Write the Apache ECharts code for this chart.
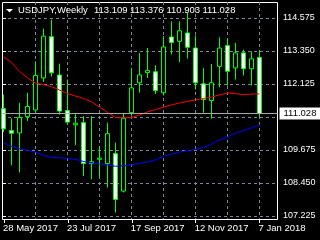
<!DOCTYPE html>
<html><head><meta charset="utf-8">
<script src="https://cdn.jsdelivr.net/npm/echarts@6/dist/echarts.min.js"></script>
<style>html,body{margin:0;padding:0;background:#000;}#c{width:320px;height:240px;}</style>
</head><body><div id="c"></div>
<script>
const symbolTitle = 'USDJPY,Weekly';
const dates = ['28 May 2017','4 Jun 2017','11 Jun 2017','18 Jun 2017','25 Jun 2017','2 Jul 2017','9 Jul 2017','16 Jul 2017','23 Jul 2017','30 Jul 2017','6 Aug 2017','13 Aug 2017','20 Aug 2017','27 Aug 2017','3 Sep 2017','10 Sep 2017','17 Sep 2017','24 Sep 2017','1 Oct 2017','8 Oct 2017','15 Oct 2017','22 Oct 2017','29 Oct 2017','5 Nov 2017','12 Nov 2017','19 Nov 2017','26 Nov 2017','3 Dec 2017','10 Dec 2017','17 Dec 2017','24 Dec 2017','31 Dec 2017','7 Jan 2018'];
const open  = [111.21,110.40,110.31,110.91,111.16,112.35,113.88,112.46,111.14,110.61,110.69,109.17,109.33,109.17,109.54,108.15,111.06,112.17,112.55,112.58,111.80,113.87,113.71,114.02,113.46,112.13,111.51,112.78,113.55,112.72,113.28,112.69,113.109];
const high  = [111.73,110.85,111.43,111.80,112.96,114.18,114.51,112.88,112.29,111.00,110.93,110.93,109.82,110.69,109.95,111.05,112.72,113.28,113.46,112.82,113.90,114.45,114.45,114.76,113.92,112.72,112.87,113.86,113.83,113.65,113.40,113.34,113.376];
const low   = [110.34,109.11,108.84,110.75,111.09,112.20,112.40,110.99,110.62,109.85,108.71,108.59,108.65,108.28,107.35,108.10,110.95,111.80,112.35,111.76,111.70,113.22,112.93,113.07,111.92,111.06,110.84,112.00,112.07,112.29,112.44,112.07,110.903];
const close = [110.46,110.30,110.88,111.29,112.44,113.90,112.54,111.12,110.71,110.67,109.17,109.24,109.37,110.28,107.84,110.85,111.98,112.46,112.63,111.88,113.50,113.67,114.10,113.49,112.17,111.55,112.17,113.46,112.60,113.28,112.69,113.06,111.028];
const maRed  = [113.14,112.92,112.59,112.35,112.16,112.10,112.03,111.90,111.77,111.68,111.59,111.46,111.27,111.07,110.88,110.87,110.88,110.975,111.09,111.18,111.27,111.35,111.42,111.48,111.53,111.59,111.64,111.72,111.79,111.77,111.73,111.75,111.76];
const maBlue = [109.95,109.81,109.72,109.66,109.59,109.48,109.40,109.39,109.36,109.33,109.25,109.20,109.16,109.12,109.07,109.09,109.12,109.18,109.23,109.31,109.44,109.52,109.60,109.65,109.70,109.77,109.90,110.05,110.16,110.29,110.40,110.50,110.60];
const yTicks = [107.225,108.450,109.675,110.900,112.125,113.350,114.575];

const FONT = 'Liberation Sans';
const GL = 2.5, GT = 2.5, GW = 275, GH = 217;
const BAR_PX = 8, FIRST_PX = 1;
const TICK_TOP = 18, TICK_BOT = 216;
const last = close.length - 1;
const ppu = (TICK_BOT - TICK_TOP) / (yTicks[yTicks.length-1] - yTicks[0]);
const yMax = yTicks[yTicks.length-1] + (TICK_TOP - GT) / ppu;
const yMin = yTicks[0] - (GT + GH - TICK_BOT) / ppu;
const xMin = -FIRST_PX / BAR_PX, xMax = xMin + GW / BAR_PX;
const grey = '#778899';
const green = '#00ff00';

const candles = dates.map((d, i) => [i, open[i], close[i], low[i], high[i]]);
const f3 = v => v.toFixed(3);
const nearestTick = v => yTicks.reduce((a, b) => Math.abs(b - v) < Math.abs(a - v) ? b : a);

const chart = echarts.init(document.getElementById('c'), null, {renderer: 'canvas'});
chart.setOption({
  backgroundColor: '#000',
  animation: false,
  grid: [
    {left: GL, top: GT, width: GW, height: GH, show: true, borderColor: '#fff', borderWidth: 1, backgroundColor: 'rgba(0,0,0,0)'},
    {left: 35.5, top: 2, width: 224, height: 217},
    {left: 3.5, top: 2, width: 256, height: 217},
    {left: 2, top: TICK_TOP, width: 275, height: TICK_BOT - TICK_TOP}
  ],
  xAxis: [
    {gridIndex: 0, type: 'value', min: xMin, max: xMax, show: false},
    {gridIndex: 1, type: 'value', min: 4, max: 32, interval: 4, axisLine: {show: false}, axisTick: {show: false}, axisLabel: {show: false},
      splitLine: {show: true, lineStyle: {color: grey, type: [3, 3], width: 1}}},
    {gridIndex: 2, type: 'value', min: 0, max: 32, interval: 8, axisLine: {show: false},
      axisTick: {show: true, length: 4, lineStyle: {color: '#fff'}},
      axisLabel: {show: true, color: '#fff', fontFamily: FONT, fontSize: 9.5, align: 'left', margin: 4, padding: [0,0,0,-1],
        formatter: v => dates[Math.round(v)] || ''},
      splitLine: {show: false}},
    {gridIndex: 3, type: 'value', min: 0, max: 1, show: false}
  ],
  yAxis: [
    {gridIndex: 0, type: 'value', min: yMin, max: yMax, show: false},
    {gridIndex: 1, type: 'value', min: 0, max: 1, show: false},
    {gridIndex: 2, type: 'value', min: 0, max: 1, show: false},
    {gridIndex: 3, type: 'value', position: 'right', min: yTicks[0], max: yTicks[yTicks.length-1], interval: yTicks[1] - yTicks[0],
      axisLine: {show: false},
      axisTick: {show: true, length: 4, lineStyle: {color: '#fff'}},
      axisLabel: {color: '#fff', fontFamily: FONT, fontSize: 9, margin: 6, formatter: v => f3(nearestTick(v))},
      splitLine: {show: true, lineStyle: {color: grey, type: [3, 3], width: 1}}}
  ],
  series: [
    {
      type: 'candlestick', xAxisIndex: 0, yAxisIndex: 0, layout: 'horizontal',
      data: candles, encode: {x: 0, y: [1, 2, 3, 4]},
      barWidth: 4, clip: false,
      itemStyle: {color: '#000', color0: '#fff', borderColor: green, borderColor0: green, borderWidth: 1},
      markLine: {
        silent: true, symbol: 'none', animation: false,
        lineStyle: {color: '#a9a9a9', type: 'solid', width: 1},
        label: {show: true, position: 'end', distance: 2, formatter: f3(close[last]),
          backgroundColor: '#fff', color: '#000', fontFamily: FONT, fontSize: 9.5, padding: [1, 4, 1, 4]},
        data: [{yAxis: close[last]}]
      },
      z: 2
    },
    {type: 'line', xAxisIndex: 0, yAxisIndex: 0, data: maRed.map((v, i) => [i, v]), showSymbol: false,
      lineStyle: {color: '#ff0000', width: 1}, itemStyle: {color: '#ff0000'}, z: 3},
    {type: 'line', xAxisIndex: 0, yAxisIndex: 0, data: maBlue.map((v, i) => [i, v]), showSymbol: false,
      lineStyle: {color: '#0000ff', width: 1}, itemStyle: {color: '#0000ff'}, z: 3}
  ],
  graphic: [
    {type: 'polygon', shape: {points: [[6, 9], [13, 9], [9.5, 12.5]]}, style: {fill: '#fff'}, z: 10},
    {type: 'text', x: 18, y: 10.7, style: {text: symbolTitle, fill: '#fff', font: '9.5px ' + FONT, textVerticalAlign: 'middle'}, z: 10},
    {type: 'text', x: 94, y: 10.7, style: {text: f3(open[last]), fill: '#fff', font: '9.5px ' + FONT, textVerticalAlign: 'middle'}, z: 10},
    {type: 'text', x: 130, y: 10.7, style: {text: f3(high[last]), fill: '#fff', font: '9.5px ' + FONT, textVerticalAlign: 'middle'}, z: 10},
    {type: 'text', x: 166.5, y: 10.7, style: {text: f3(low[last]), fill: '#fff', font: '9.5px ' + FONT, textVerticalAlign: 'middle'}, z: 10},
    {type: 'text', x: 202.5, y: 10.7, style: {text: f3(close[last]), fill: '#fff', font: '9.5px ' + FONT, textVerticalAlign: 'middle'}, z: 10}
  ]
});
</script></body></html>
